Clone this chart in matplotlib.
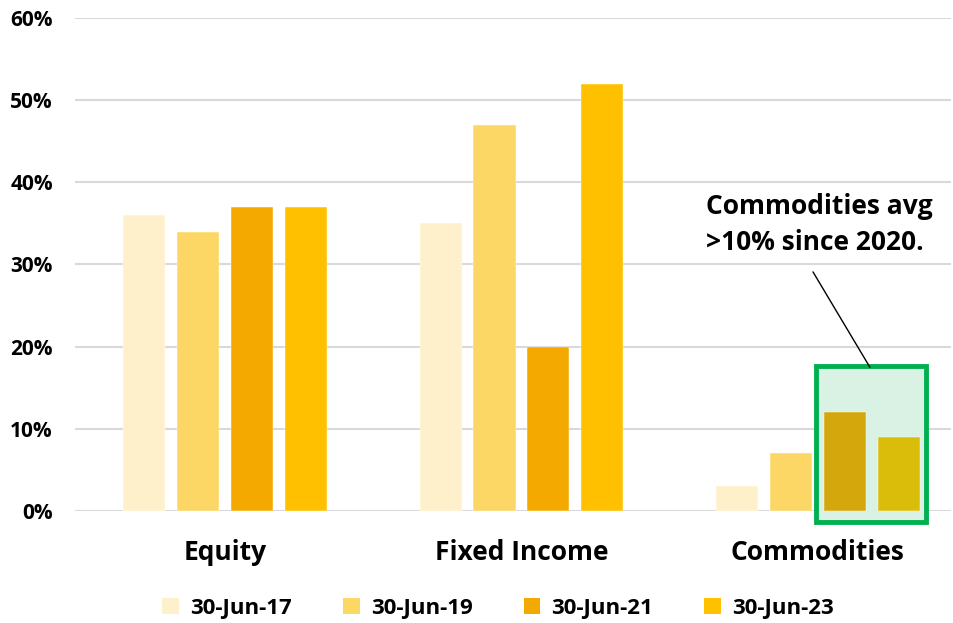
import numpy as np
import matplotlib.pyplot as plt
from matplotlib.patches import Rectangle, Patch
from matplotlib.ticker import PercentFormatter

plt.rcParams['font.family'] = ['Open Sans', 'DejaVu Sans']
plt.rcParams['font.weight'] = 'bold'

categories = ['Equity', 'Fixed Income', 'Commodities']
dates = ['30-Jun-17', '30-Jun-19', '30-Jun-21', '30-Jun-23']
shares = {
    '30-Jun-17': [36, 35, 3],
    '30-Jun-19': [34, 47, 7],
    '30-Jun-21': [37, 20, 12],
    '30-Jun-23': [37, 52, 9],
}
colors = ['#FFF0CC', '#FDD766', '#F4A900', '#FFC000']
# commodities bars inside the highlight box are shaded darker
highlight_colors = {'30-Jun-21': '#D4A80D', '30-Jun-23': '#DABD0B'}

fig = plt.figure(figsize=(9.54, 6.23), dpi=100)
ax = fig.add_axes([0.0786, 0.1798, 0.918, 0.7913])

x = np.arange(len(categories))
width = 0.142
step = 0.182
offsets = (np.arange(len(dates)) - 1.5) * step

for i, d in enumerate(dates):
    bar_colors = [colors[i]] * len(categories)
    if d in highlight_colors:
        bar_colors[2] = highlight_colors[d]
    ax.bar(x + offsets[i], shares[d], width, color=bar_colors,
           zorder=3, edgecolor='white', linewidth=0.3)

ax.set_ylim(0, 60)
ax.set_xlim(-0.507, 2.449)
ax.set_yticks(range(0, 61, 10))
ax.yaxis.set_major_formatter(PercentFormatter(decimals=0))
ax.grid(axis='y', color='#D9D9D9', linewidth=1.5, zorder=0)
ax.tick_params(axis='y', length=0, labelsize=15, pad=16)
ax.tick_params(axis='x', length=0, labelsize=19, pad=20)
ax.set_xticks(x)
ax.set_xticklabels(categories)
for s in ax.spines.values():
    s.set_visible(False)

# highlight box around the recent commodities bars
bx0 = 2 + offsets[2] - width / 2 - 0.025
bx1 = 2 + offsets[3] + width / 2 + 0.022
ax.add_patch(Rectangle((bx0, -1.4), bx1 - bx0, 19.0, facecolor='#DAF2E4',
                       edgecolor='none', zorder=2, clip_on=False))
ax.add_patch(Rectangle((bx0, -1.4), bx1 - bx0, 19.0, facecolor='none',
                       edgecolor='#00B050', linewidth=3.5, zorder=4, clip_on=False))

ax.text(1.623, 34.9, 'Commodities avg\n>10% since 2020.', fontsize=19,
        fontweight='bold', ha='left', va='center', linespacing=1.45, zorder=5)
ax.annotate('', xy=(2.176, 17.5), xytext=(1.984, 29.1),
            arrowprops=dict(arrowstyle='-', color='black', linewidth=1,
                            shrinkA=0, shrinkB=0), zorder=5)

handles = [Patch(facecolor=c, label=d) for c, d in zip(colors, dates)]
fig.legend(handles=handles, loc='lower center', ncol=4, frameon=False,
           bbox_to_anchor=(0.522, -0.022), fontsize=16, handlelength=0.75, handleheight=0.75,
           handletextpad=0.5, columnspacing=2.3, borderpad=0.3)

fig.savefig('out.png', dpi=100)
